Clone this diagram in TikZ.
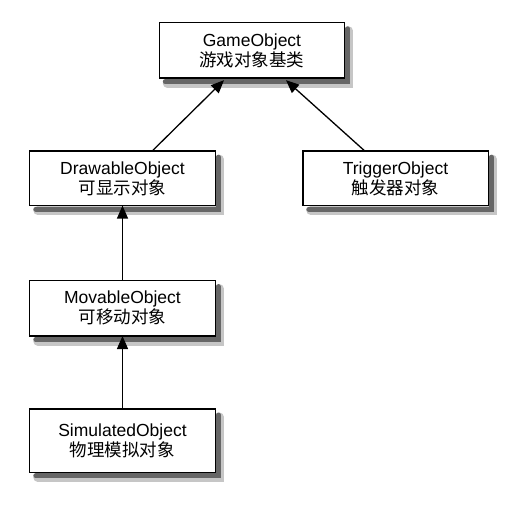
\documentclass[tikz,border=0pt]{standalone}
\usepackage{fontspec}
\setmainfont{Liberation Sans}
\newfontfamily\cjk{Noto Sans CJK SC}
\usepackage{tikz}
\usetikzlibrary{arrows.meta, positioning}

\begin{document}
\begin{tikzpicture}[node distance=73pt,
        classbox/.style={draw, line width=1.4pt, fill=white, minimum width=184pt, minimum height=54pt, align=center, font=\fontsize{17.5}{20}\selectfont},
        shadeline/.style={draw=gray, line width=5pt, line cap=round},
        inherit/.style={-{Triangle[length=13pt,width=11pt]}, line width=1.3pt}]
        \useasboundingbox (-252pt,50.5pt) rectangle (267pt,-454.5pt);
        \node[classbox] (game) at (0,0) {GameObject\\{\cjk 游戏对象基类}};
        \node[classbox] (drawable) [below=of game, xshift=-129.5pt, minimum height=53pt] {DrawableObject\\{\cjk 可显示对象}};
        \node[classbox] (trigger) [below=of game, xshift=143.5pt, minimum height=53pt] {TriggerObject\\{\cjk 触发器对象}};
        \node[classbox] (movable) [below=75pt of drawable] {MovableObject\\{\cjk 可移动对象}};
        \node[classbox] (simulated) [below=of movable, minimum height=62pt] {SimulatedObject\\{\cjk 物理模拟对象}};

        % shadows along the lower and right edges
        \foreach \n in {game, drawable, trigger, movable, simulated} {
            \draw[shadeline, draw=gray!45, line width=9pt] ([shift={(8pt,-5pt)}]\n.south west) -- ([shift={(4pt,-5pt)}]\n.south east) -- ([shift={(4pt,-8pt)}]\n.north east);
            \draw[shadeline, draw=gray!80!black] ([shift={(6pt,-3.5pt)}]\n.south west) -- ([shift={(3pt,-3.5pt)}]\n.south east) -- ([shift={(3pt,-6pt)}]\n.north east);
        }
        \foreach \n in {game, drawable, trigger, movable, simulated}
            \draw[line width=1.4pt, fill=white] (\n.south west) rectangle (\n.north east);
        \node[draw=none, fill=none, align=center, font=\fontsize{17.5}{20}\selectfont] (game t) at (game) {GameObject\\{\cjk 游戏对象基类}};
        \node[draw=none, fill=none, align=center, font=\fontsize{17.5}{20}\selectfont] (drawable t) at (drawable) {DrawableObject\\{\cjk 可显示对象}};
        \node[draw=none, fill=none, align=center, font=\fontsize{17.5}{20}\selectfont] (trigger t) at (trigger) {TriggerObject\\{\cjk 触发器对象}};
        \node[draw=none, fill=none, align=center, font=\fontsize{17.5}{20}\selectfont] (movable t) at (movable) {MovableObject\\{\cjk 可移动对象}};
        \node[draw=none, fill=none, align=center, font=\fontsize{17.5}{20}\selectfont] (simulated t) at (simulated) {SimulatedObject\\{\cjk 物理模拟对象}};

        \draw[inherit] ([xshift=29.5pt]drawable.north) -- ([xshift=-28pt,yshift=-2pt]game.south);
        \draw[inherit] ([xshift=-30.5pt]trigger.north) -- ([xshift=34pt,yshift=-2pt]game.south);
        \draw[inherit] (movable) -- (drawable);
        \draw[inherit] (simulated) -- (movable);
    \end{tikzpicture}
\end{document}
